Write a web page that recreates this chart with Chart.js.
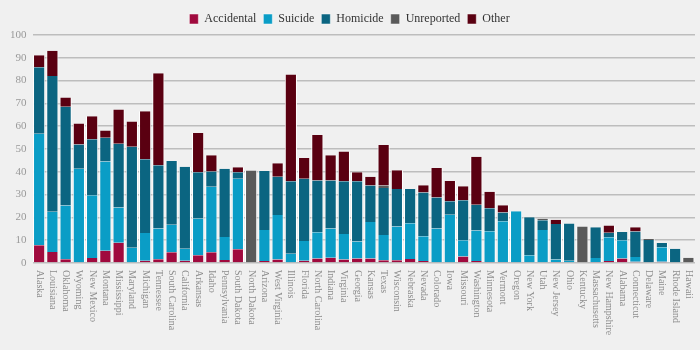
<!DOCTYPE html>
<html>
<head>
<meta charset="utf-8">
<script src="https://cdn.jsdelivr.net/npm/chart.js"></script>
<style>
  html, body { margin: 0; padding: 0; background: #f0f0f0; }
  #wrap { width: 700px; height: 350px; }
</style>
</head>
<body>
<div id="wrap"><canvas id="deathsChart"></canvas></div>
<script>
  const states = ['Alaska', 'Louisiana', 'Oklahoma', 'Wyoming', 'New Mexico', 'Montana', 'Mississippi', 'Maryland',
    'Michigan', 'Tennessee', 'South Carolina', 'California', 'Arkansas', 'Idaho', 'Pennsylvania', 'South Dakota',
    'North Dakota', 'Arizona', 'West Virginia', 'Illinois', 'Florida', 'North Carolina', 'Indiana', 'Virginia',
    'Georgia', 'Kansas', 'Texas', 'Wisconsin', 'Nebraska', 'Nevada', 'Colorado', 'Iowa', 'Missouri', 'Washington',
    'Minnesota', 'Vermont', 'Oregon', 'New York', 'Utah', 'New Jersey', 'Ohio', 'Kentucky', 'Massachusetts',
    'New Hampshire', 'Alabama', 'Connecticut', 'Delaware', 'Maine', 'Rhode Island', 'Hawaii'];

  const accidental = [7.8, 4.8, 1.6, 0, 2.2, 5.4, 8.9, 0, 1.0, 1.6, 4.7, 1.0, 3.4, 4.7, 1.3, 6.0, 0, 0.9, 1.5, 0,
    1.0, 2.0, 2.3, 1.5, 2.0, 2.0, 1.2, 1.2, 1.8, 0.9, 0, 0, 2.8, 0.9, 0.4, 0.4, 0, 0.3, 0, 0.4,
    0, 0, 0.4, 0.9, 2.0, 0.6, 0, 0.6, 0, 0];
  const suicide = [48.9, 17.7, 23.6, 41.3, 27.5, 39.1, 15.4, 6.7, 12.2, 13.5, 12.1, 5.3, 16.1, 28.7, 10.1, 31.0, 0, 13.6, 19.6, 4.1,
    8.7, 11.5, 12.8, 11.2, 7.4, 16.0, 11.1, 14.8, 15.6, 10.8, 15.1, 21.2, 7.2, 13.4, 13.5, 17.9, 22.7, 3.1, 14.5, 1.1,
    1.0, 0, 1.8, 10.4, 8.0, 2.0, 0, 6.3, 0, 0];
  const homicide = [29.2, 59.5, 43.3, 10.7, 24.6, 10.4, 28.0, 44.3, 32.3, 27.8, 27.9, 35.9, 20.3, 6.7, 29.9, 2.8, 0, 25.8, 16.7, 31.8,
    27.2, 22.7, 21.1, 23.2, 26.5, 16.0, 20.6, 16.5, 15.1, 19.2, 13.6, 5.9, 17.5, 11.3, 10.1, 3.8, 0, 16.7, 4.2, 15.6,
    16.3, 0, 13.5, 2.0, 3.6, 11.2, 10.1, 1.9, 6.3, 0];
  const unreported = [0, 0, 0, 0, 0, 0, 0, 0, 0, 0, 0, 0, 0, 0, 0, 0, 40.6, 0, 0, 0,
    0, 0, 0, 0, 0, 0, 1.1, 0, 0, 0, 0, 0, 0, 0, 0, 0, 0, 0, 0.7, 0,
    0, 16.0, 0, 0, 0, 0, 0.4, 0, 0, 2.3];
  const other = [5.2, 11.1, 4.1, 9.2, 10.1, 3.2, 15.0, 11.1, 21.1, 40.3, 0, 0, 17.2, 7.2, 0, 2.2, 0, 0, 6.0, 46.8,
    9.2, 19.9, 11.1, 13.0, 3.9, 3.8, 17.8, 8.2, 0, 3.2, 13.0, 8.9, 6.2, 21.0, 7.2, 3.2, 0, 0, 0, 1.9,
    0, 0, 0, 3.2, 0, 1.9, 0, 0, 0, 0];

  const serif = '"Liberation Serif", "Times New Roman", serif';

  // state names run downward from the axis, so they are drawn here instead of by the tick renderer
  const stateLabels = {
    id: 'stateLabels',
    afterDraw(chart) {
      const xScale = chart.scales.x;
      const ctx = chart.ctx;
      ctx.save();
      ctx.font = '10px ' + serif;
      ctx.fillStyle = '#8c8c8c';
      ctx.textAlign = 'left';
      ctx.textBaseline = 'middle';
      states.forEach((name, i) => {
        ctx.save();
        ctx.translate(xScale.getPixelForTick(i), chart.chartArea.bottom + 7);
        ctx.rotate(Math.PI / 2);
        ctx.fillText(name, 0, 0);
        ctx.restore();
      });
      ctx.restore();
    }
  };

  const barStyle = {
    borderColor: '#ffffff',
    borderWidth: { left: 1, right: 1, top: 0, bottom: 0 },
    barPercentage: 0.92,
    categoryPercentage: 1
  };

  const ctx = document.getElementById('deathsChart').getContext('2d');
  const deathsChart = new Chart(ctx, {
    type: 'bar',
    data: {
      labels: states,
      datasets: [
        { label: 'Accidental', data: accidental, backgroundColor: '#a00a3e', ...barStyle },
        { label: 'Suicide', data: suicide, backgroundColor: '#0a9dc6', ...barStyle },
        { label: 'Homicide', data: homicide, backgroundColor: '#0b6581', ...barStyle },
        { label: 'Unreported', data: unreported, backgroundColor: '#5a5a5a', ...barStyle },
        { label: 'Other', data: other, backgroundColor: '#5a0011', ...barStyle }
      ]
    },
    options: {
      responsive: true,
      maintainAspectRatio: false,
      animation: false,
      layout: {
        padding: { top: 6, left: 4, right: 5, bottom: 79 }
      },
      plugins: {
        legend: {
          position: 'top',
          labels: {
            boxWidth: 9,
            boxHeight: 10,
            padding: 7,
            color: '#333333',
            font: { family: serif, size: 12 }
          }
        },
        tooltip: { enabled: false }
      },
      scales: {
        x: {
          stacked: true,
          grid: { display: false },
          border: { display: false },
          ticks: { display: false }
        },
        y: {
          stacked: true,
          min: 0,
          max: 100,
          grid: { color: '#bdbdbd', lineWidth: 1.5, drawTicks: false },
          border: { display: false },
          ticks: {
            stepSize: 10,
            padding: 6,
            color: '#999999',
            font: { family: serif, size: 11 }
          }
        }
      }
    },
    plugins: [stateLabels]
  });
</script>
</body>
</html>
